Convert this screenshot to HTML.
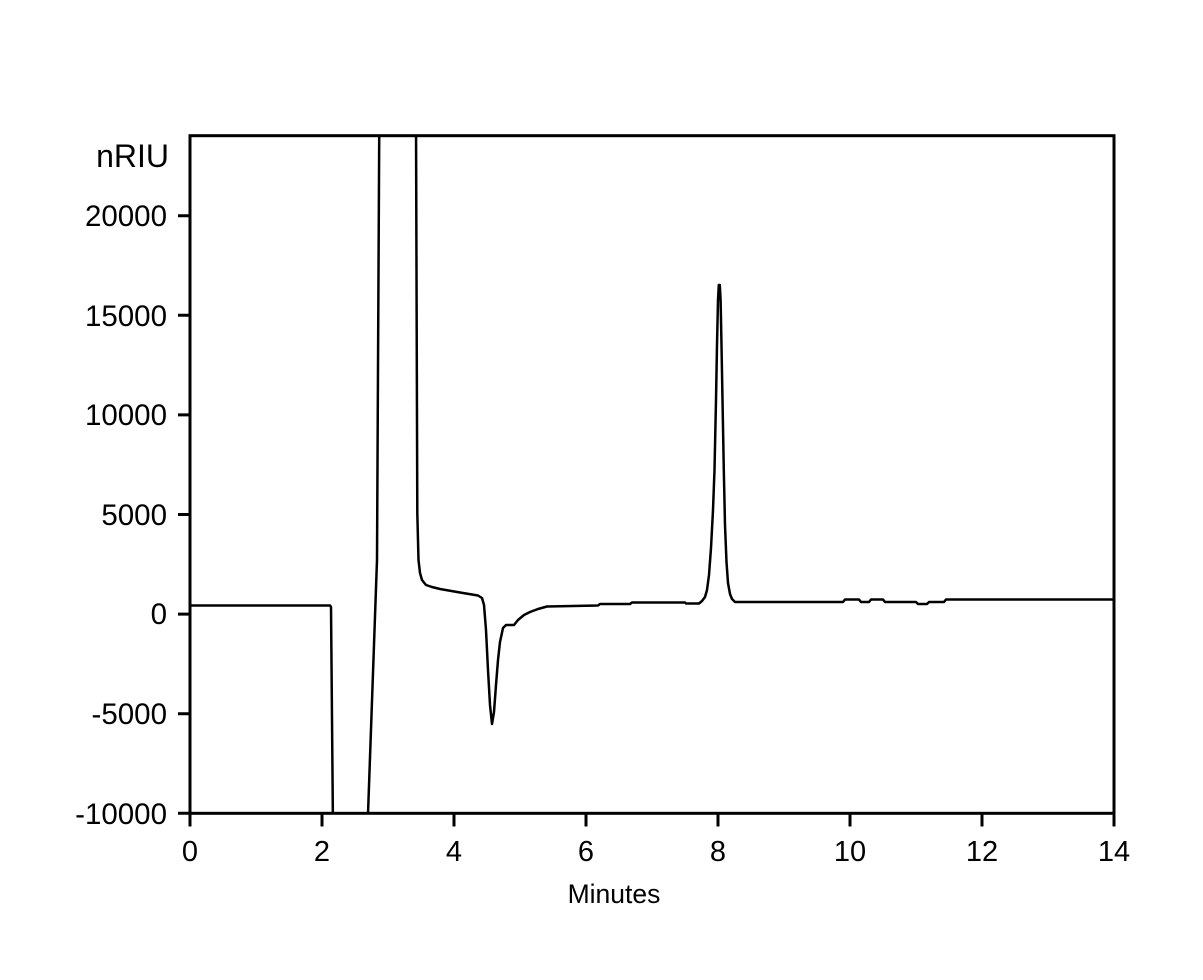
<!DOCTYPE html>
<html><head><meta charset="utf-8"><style>
html,body{margin:0;padding:0;background:#fff;}
svg{display:block;}
text{font-family:"Liberation Sans",Arial,sans-serif;fill:#000;}
</style></head><body>
<svg width="1203" height="980" viewBox="0 0 1203 980" xmlns="http://www.w3.org/2000/svg">
<rect x="0" y="0" width="1203" height="980" fill="#fff"/>
<defs><clipPath id="c"><rect x="190" y="135.5" width="924" height="678"/></clipPath></defs>
<g clip-path="url(#c)" fill="none" stroke="#000" stroke-width="2.5" stroke-linejoin="round">
<path d="M190,605.5 L330,605.5 L331,607 L333,830"/>
<path d="M367.5,830 L368,814 L377,560 L379.3,120"/>
<path d="M416,120 L417.3,513 L418.5,560 L420,573 L422,580 L426,585 L432,587 L440,589 L460,592.5 L478,595.5 L482,598 L484,605 L486,630 L488,670 L490,705 L492,724 L494,712 L496,685 L498,660 L500,642 L503,628 L506,625 L514,625 L518,620 L524,615 L530,612 L538,609 L547,606.5 L598,605.5 L600,604 L630,604 L632,602.5 L685,602.5 L686,603.5 L699,603.5 L702,601 L705,597 L707,590 L709,575 L711,548 L713,510 L714.5,470 L716,400 L717,345 L718,300 L718.8,285 L719.8,285 L720.6,300 L721.5,345 L722.5,400 L723.8,470 L725,525 L726.5,562 L728,583 L730,594 L732,599 L735,602 L843,602 L845,599.5 L859,599.5 L861,602 L869,602 L871,599.5 L883,599.5 L885,602 L916,602 L918,604 L927,604 L929,602 L944,602 L946,599.5 L1114,599.5"/>
</g>
<g fill="none" stroke="#000" stroke-width="3">
<rect x="190" y="135.7" width="924" height="677.6"/>
<path d="M178,215.7H190 M178,315.3H190 M178,414.9H190 M178,514.5H190 M178,614.1H190 M178,713.7H190 M178,813.3H190"/>
<path d="M190,813.3V826.5 M322,813.3V826.5 M454,813.3V826.5 M586,813.3V826.5 M718,813.3V826.5 M850,813.3V826.5 M982,813.3V826.5 M1114,813.3V826.5"/>
</g>
<text x="169" y="167" font-size="32" text-anchor="end">nRIU</text>
<g font-size="29.5" text-anchor="end">
<text x="167" y="226">20000</text>
<text x="167" y="326">15000</text>
<text x="167" y="425">10000</text>
<text x="167" y="525">5000</text>
<text x="167" y="624">0</text>
<text x="167" y="724">-5000</text>
<text x="167" y="824">-10000</text>
</g>
<g font-size="29" text-anchor="middle">
<text x="190" y="861">0</text>
<text x="322" y="861">2</text>
<text x="454" y="861">4</text>
<text x="586" y="861">6</text>
<text x="718" y="861">8</text>
<text x="850" y="861">10</text>
<text x="982" y="861">12</text>
<text x="1114" y="861">14</text>
</g>
<text x="614" y="903" font-size="26.5" text-anchor="middle">Minutes</text>
</svg>
</body></html>
